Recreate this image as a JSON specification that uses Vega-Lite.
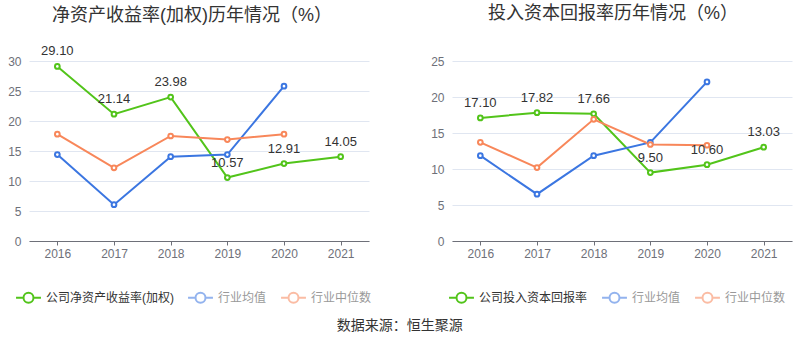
{
  "$schema": "https://vega.github.io/schema/vega-lite/v6.json",
  "background": "white",
  "padding": {"left": 7, "top": 5, "right": 5, "bottom": 5},
  "datasets": {
    "roe": [
      {"year": "2016", "series": "公司净资产收益率(加权)", "value": 29.10},
      {"year": "2017", "series": "公司净资产收益率(加权)", "value": 21.14},
      {"year": "2018", "series": "公司净资产收益率(加权)", "value": 23.98},
      {"year": "2019", "series": "公司净资产收益率(加权)", "value": 10.57},
      {"year": "2020", "series": "公司净资产收益率(加权)", "value": 12.91},
      {"year": "2021", "series": "公司净资产收益率(加权)", "value": 14.05},
      {"year": "2016", "series": "行业均值", "value": 14.4},
      {"year": "2017", "series": "行业均值", "value": 6.05},
      {"year": "2018", "series": "行业均值", "value": 14.05},
      {"year": "2019", "series": "行业均值", "value": 14.4},
      {"year": "2020", "series": "行业均值", "value": 25.8},
      {"year": "2016", "series": "行业中位数", "value": 17.8},
      {"year": "2017", "series": "行业中位数", "value": 12.2},
      {"year": "2018", "series": "行业中位数", "value": 17.5},
      {"year": "2019", "series": "行业中位数", "value": 16.9},
      {"year": "2020", "series": "行业中位数", "value": 17.8}
    ],
    "roic": [
      {"year": "2016", "series": "公司投入资本回报率", "value": 17.10},
      {"year": "2017", "series": "公司投入资本回报率", "value": 17.82},
      {"year": "2018", "series": "公司投入资本回报率", "value": 17.66},
      {"year": "2019", "series": "公司投入资本回报率", "value": 9.50},
      {"year": "2020", "series": "公司投入资本回报率", "value": 10.60},
      {"year": "2021", "series": "公司投入资本回报率", "value": 13.03},
      {"year": "2016", "series": "行业均值", "value": 11.85},
      {"year": "2017", "series": "行业均值", "value": 6.5},
      {"year": "2018", "series": "行业均值", "value": 11.85},
      {"year": "2019", "series": "行业均值", "value": 13.7},
      {"year": "2020", "series": "行业均值", "value": 22.1},
      {"year": "2016", "series": "行业中位数", "value": 13.7},
      {"year": "2017", "series": "行业中位数", "value": 10.2},
      {"year": "2018", "series": "行业中位数", "value": 16.9},
      {"year": "2019", "series": "行业中位数", "value": 13.4},
      {"year": "2020", "series": "行业中位数", "value": 13.3}
    ]
  },
  "title": {
    "text": "数据来源：恒生聚源",
    "orient": "bottom",
    "anchor": "middle",
    "fontSize": 14,
    "fontWeight": "normal",
    "color": "#333333",
    "offset": 12
  },
  "spacing": 58,
  "resolve": {"scale": {"color": "independent"}, "legend": {"color": "independent"}},
  "hconcat": [
    {
      "width": 340,
      "height": 180,
      "data": {"name": "roe"},
      "title": {"text": "净资产收益率(加权)历年情况（%）", "dx": -7, "offset": 20, "frame": "group"},
      "encoding": {
        "x": {"field": "year", "type": "ordinal", "scale": {"type": "point", "padding": 0.5}, "axis": {"title": null}},
        "y": {"field": "value", "type": "quantitative", "scale": {"domain": [0, 30]}, "axis": {"title": null, "values": [0, 5, 10, 15, 20, 25, 30]}}
      },
      "layer": [
        {
          "mark": {"type": "line", "strokeWidth": 2, "point": {"filled": false, "fill": "white", "size": 22, "strokeWidth": 2}},
          "encoding": {
            "color": {
              "field": "series", "type": "nominal", "sort": null,
              "scale": {"domain": ["公司净资产收益率(加权)", "行业均值", "行业中位数"], "range": ["#52c41a", "#3b76e1", "#f8875a"]},
              "legend": {"orient": "none", "legendX": -14, "legendY": 223}
            }
          }
        },
        {
          "transform": [{"filter": "datum.series == '公司净资产收益率(加权)'"}],
          "mark": {"type": "text", "dy": -15, "fontSize": 13, "color": "#333333"},
          "encoding": {
            "text": {"field": "value", "type": "quantitative", "format": ".2f"}
          }
        }
      ]
    },
    {
      "width": 340,
      "height": 180,
      "data": {"name": "roic"},
      "title": {"text": "投入资本回报率历年情况（%）", "dx": -9, "offset": 32, "frame": "group"},
      "encoding": {
        "x": {"field": "year", "type": "ordinal", "scale": {"type": "point", "padding": 0.5}, "axis": {"title": null}},
        "y": {"field": "value", "type": "quantitative", "scale": {"domain": [0, 25]}, "axis": {"title": null, "values": [0, 5, 10, 15, 20, 25]}}
      },
      "layer": [
        {
          "mark": {"type": "line", "strokeWidth": 2, "point": {"filled": false, "fill": "white", "size": 22, "strokeWidth": 2}},
          "encoding": {
            "color": {
              "field": "series", "type": "nominal", "sort": null,
              "scale": {"domain": ["公司投入资本回报率", "行业均值", "行业中位数"], "range": ["#52c41a", "#3b76e1", "#f8875a"]},
              "legend": {"orient": "none", "legendX": -4, "legendY": 223}
            }
          }
        },
        {
          "transform": [{"filter": "datum.series == '公司投入资本回报率'"}],
          "mark": {"type": "text", "dy": -15, "fontSize": 13, "color": "#333333"},
          "encoding": {
            "text": {"field": "value", "type": "quantitative", "format": ".2f"}
          }
        }
      ]
    }
  ],
  "config": {
    "font": "'Liberation Sans', 'Noto Sans CJK SC', sans-serif",
    "view": {"stroke": null},
    "title": {"fontSize": 18, "fontWeight": "normal", "color": "#333333", "anchor": "middle"},
    "axisY": {"domain": false, "ticks": false, "labelColor": "#6e7079", "labelFontSize": 12, "labelPadding": 8, "gridColor": "#e0e6f1", "gridWidth": 1},
    "axisX": {"domainColor": "#6e7079", "tickColor": "#6e7079", "tickSize": 4, "labelColor": "#6e7079", "labelFontSize": 12, "labelPadding": 3, "grid": false, "labelAngle": 0},
    "legend": {
      "direction": "horizontal",
      "title": null,
      "labelFontSize": 12,
      "labelColor": {"expr": "indexof(datum.label, '公司') == 0 ? '#333333' : '#999999'"},
      "symbolType": "M-1,0H-0.4M0.4,0H1M0.4,0A0.4,0.4 0 1,1 -0.4,0A0.4,0.4 0 1,1 0.4,0",
      "symbolSize": 620,
      "symbolStrokeWidth": 2,
      "symbolFillColor": "transparent",
      "symbolOpacity": {"expr": "indexof(datum.label, '公司') == 0 ? 1 : 0.55"},
      "columnPadding": 10,
      "labelOffset": 4
    }
  }
}
